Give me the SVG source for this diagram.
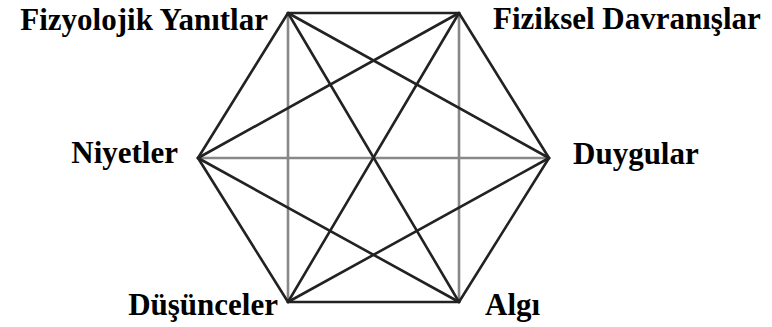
<svg xmlns="http://www.w3.org/2000/svg" width="772" height="327" viewBox="0 0 772 327">
<style>
.e{stroke:#222;stroke-width:2.6;fill:none;stroke-linecap:round}
.g{stroke:#888;stroke-width:2.6;fill:none}
.t{font-family:'Liberation Serif','Times New Roman',serif;font-weight:700;font-size:31px;fill:#000}
</style>
<rect width="772" height="327" fill="#fff"/>
<g id="connectors">
<line class="e" x1="288" y1="13" x2="459" y2="13"/>
<line class="e" x1="288" y1="302" x2="459" y2="302"/>
<line class="g" x1="288" y1="13" x2="288" y2="302"/>
<line class="g" x1="459" y1="13" x2="459" y2="302"/>
<line class="g" x1="198" y1="158" x2="549" y2="158"/>
<line class="e" x1="288" y1="13" x2="198" y2="158"/>
<line class="e" x1="288" y1="13" x2="549" y2="158"/>
<line class="e" x1="288" y1="13" x2="459" y2="302"/>
<line class="e" x1="459" y1="13" x2="549" y2="158"/>
<line class="e" x1="459" y1="13" x2="198" y2="158"/>
<line class="e" x1="459" y1="13" x2="288" y2="302"/>
<line class="e" x1="198" y1="158" x2="288" y2="302"/>
<line class="e" x1="198" y1="158" x2="459" y2="302"/>
<line class="e" x1="549" y1="158" x2="459" y2="302"/>
<line class="e" x1="549" y1="158" x2="288" y2="302"/>
</g>
<g id="fizyolojik"><text class="t" x="268" y="30" text-anchor="end">Fizyolojik Yanıtlar</text></g>
<g id="fiziksel"><text class="t" x="493" y="29">Fiziksel Davranışlar</text></g>
<g id="niyetler"><text class="t" x="178" y="163" text-anchor="end">Niyetler</text></g>
<g id="duygular"><text class="t" x="573" y="164">Duygular</text></g>
<g id="dusunceler"><text class="t" x="278" y="315" text-anchor="end">Düşünceler</text></g>
<g id="algi"><text class="t" x="485" y="315">Algı</text></g>
</svg>
